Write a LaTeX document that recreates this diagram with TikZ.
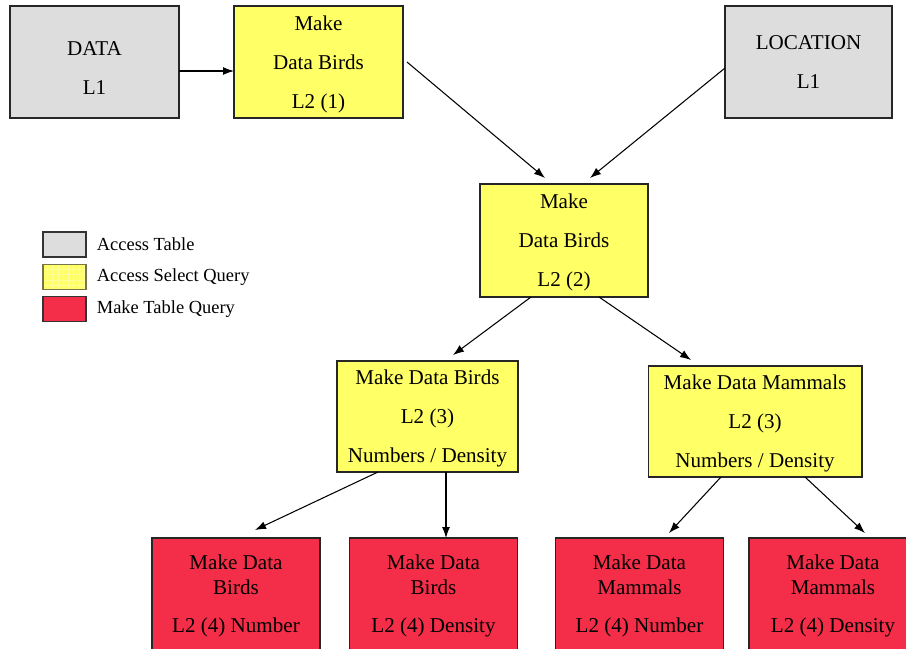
\documentclass[tikz,border=0pt]{standalone}
\usepackage{fontspec}
\setmainfont{Liberation Serif}
\usepackage{tikz}
\usetikzlibrary{arrows.meta,positioning,patterns}

\definecolor{tableGrey}{HTML}{DDDDDD}
\definecolor{queryYellow}{HTML}{FFFF66}
\definecolor{makeRed}{HTML}{F42E48}

\begin{document}
\begin{tikzpicture}[x=0.02cm, y=-0.02cm, >={Latex[length=2.2mm,width=1.6mm]},
		box/.style={draw=black!85, line width=0.6pt, inner sep=0pt, outer sep=0pt, align=center, text depth=0pt,
			minimum width=3.36cm, minimum height=2.24cm, font=\fontsize{12}{14.2}\selectfont},
		accessbox/.style={box, fill=tableGrey},
		selectbox/.style={box, fill=queryYellow},
		makebox/.style={box, fill=makeRed},
		key/.style={draw=black!80, line width=0.6pt, inner sep=0pt, minimum width=0.86cm, minimum height=0.5cm},
		keytext/.style={right=0.2cm of #1, inner sep=0pt, font=\fontsize{10.5}{12}\selectfont},
		link/.style={->, line width=0.6pt}]
		% Rand van de figuur
		\clip (0,0) rectangle (906,649);

		% Bovenste rij
		\node[accessbox, minimum width=3.38cm, text height=37pt] (data) at (94.5,62) {DATA\\[8pt]L1};
		\node[selectbox, minimum width=3.38cm] (birdsA) at (318.5,62) {Make\\[8pt]Data Birds\\[8pt]L2 (1)};
		\node[accessbox, minimum width=3.34cm] (location) at (808.5,62) {LOCATION\\[8pt]L1};

		% Tweede niveau
		\node[selectbox, minimum height=2.26cm] (birdsB) at (564,240.5) {Make\\[8pt]Data Birds\\[8pt]L2 (2)};

		% Derde niveau
		\node[selectbox, minimum width=3.62cm, minimum height=2.22cm] (birdsC) at (427.5,416.5) {Make Data Birds\\[8pt]L2 (3)\\[8pt]Numbers / Density};
		\node[selectbox, minimum width=4.28cm, minimum height=2.22cm] (mammalsC) at (755,421.5) {Make Data Mammals\\[8pt]L2 (3)\\[8pt]Numbers / Density};

		% Onderste rij (tabellen maken)
		\node[makebox] (birdsNum) at (236,594) {Make Data\\Birds\\[7.5pt]L2 (4) Number};
		\node[makebox] (birdsDen) at (433.5,594) {Make Data\\Birds\\[7.5pt]L2 (4) Density};
		\node[makebox] (mammalsNum) at (639.5,594) {Make Data\\Mammals\\[7.5pt]L2 (4) Number};
		\node[makebox] (mammalsDen) at (833,594) {Make Data\\Mammals\\[7.5pt]L2 (4) Density};

		% Legenda
		\node[key, fill=tableGrey] (keyGrey) at (64.5,244.5) {};
		\node[key, preaction={fill=queryYellow}, pattern=grid, pattern color=white!60!yellow, draw=black!60!yellow] (keyYellow) at (64.5,277) {};
		\node[key, fill=makeRed] (keyRed) at (64.5,309) {};
		\node[keytext=keyGrey] (keyGreyText) {Access Table};
		\node[keytext=keyYellow] (keyYellowText) {Access Select Query};
		\node[keytext=keyRed] (keyRedText) {Make Table Query};

		% Pijlen
		\draw[link] ([yshift=-0.18cm]data.east) -- ([yshift=-0.18cm]birdsA.west);
		\draw[link] ([xshift=0.08cm]birdsA.east) -- ([xshift=-0.38cm,yshift=0.12cm]birdsB.north);
		\draw[link] ([yshift=-0.12cm]location.west) -- ([xshift=0.52cm,yshift=0.12cm]birdsB.north);
		\draw[link] ([xshift=-0.66cm]birdsB.south) -- ([xshift=0.51cm,yshift=0.12cm]birdsC.north);
		\draw[link] ([xshift=0.7cm]birdsB.south) -- ([xshift=-1.28cm,yshift=0.12cm]mammalsC.north);
		\draw[link] ([xshift=-0.99cm]birdsC.south) -- ([xshift=0.38cm,yshift=0.16cm]birdsNum.north);
		\draw[link] ([xshift=0.37cm]birdsC.south) -- ([xshift=0.37cm]birdsC.south |- birdsDen.north);
		\draw[link] ([xshift=-0.68cm]mammalsC.south) -- ([xshift=0.59cm,yshift=0.1cm]mammalsNum.north);
		\draw[link] ([xshift=1cm]mammalsC.south) -- ([xshift=0.64cm,yshift=0.1cm]mammalsDen.north);
	\end{tikzpicture}
\end{document}
